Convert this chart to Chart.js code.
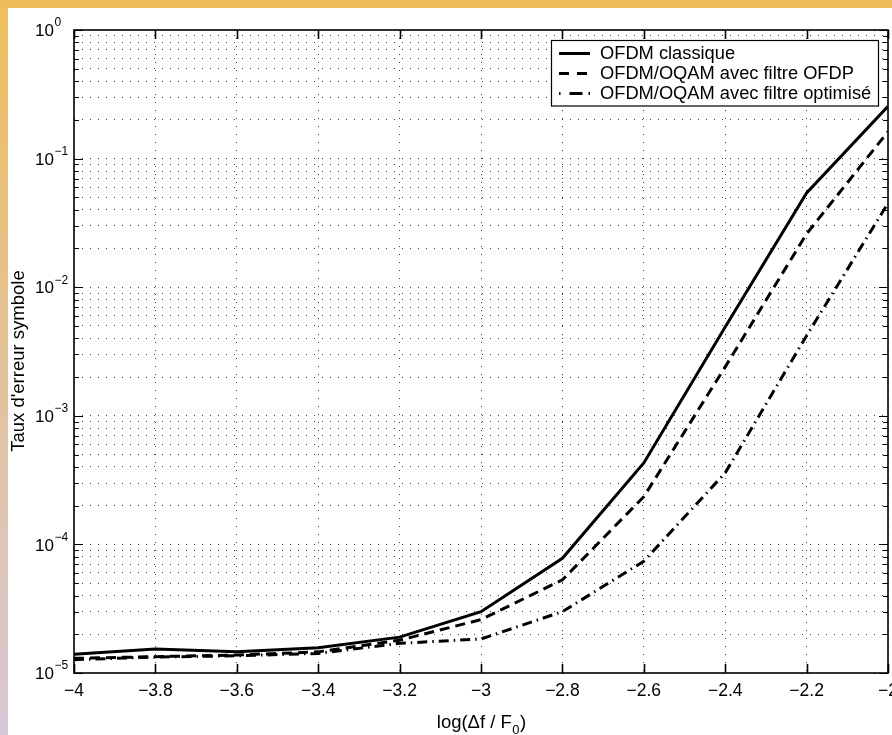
<!DOCTYPE html>
<html>
<head>
<meta charset="utf-8">
<script src="https://cdn.jsdelivr.net/npm/chart.js@4.4.1/dist/chart.umd.min.js"></script>
<style>
  html, body { margin: 0; padding: 0; background: #fff; overflow: hidden; }
</style>
</head>
<body>
<canvas id="myChart" width="892" height="735"></canvas>
<script>
// values
const xValues = [-4, -3.8, -3.6, -3.4, -3.2, -3, -2.8, -2.6, -2.4, -2.2, -2];
const ofdmClassique = [1.40e-5, 1.54e-5, 1.46e-5, 1.57e-5, 1.9e-5, 3.0e-5, 7.8e-5, 4.3e-4, 4.9e-3, 5.4e-2, 2.55e-1];
const oqamOfdp = [1.30e-5, 1.34e-5, 1.38e-5, 1.46e-5, 1.8e-5, 2.6e-5, 5.3e-5, 2.35e-4, 2.4e-3, 2.6e-2, 1.62e-1];
const oqamOptimise = [1.27e-5, 1.33e-5, 1.36e-5, 1.42e-5, 1.7e-5, 1.84e-5, 3.0e-5, 7.4e-5, 3.6e-4, 4.2e-3, 4.5e-2];
const seriesLabels = ['OFDM classique', 'OFDM/OQAM avec filtre OFDP', 'OFDM/OQAM avec filtre optimisé'];
const xTickLabels = ['\u22124', '\u22123.8', '\u22123.6', '\u22123.4', '\u22123.2', '\u22123', '\u22122.8', '\u22122.6', '\u22122.4', '\u22122.2', '\u22122'];
const yDecades = [-5, -4, -3, -2, -1, 0];
const xTitle = ['log(\u0394f / F', '0', ')'];
const yTitle = "Taux d'erreur symbole";

const FONT = '"Liberation Sans", Arial, Helvetica, sans-serif';

// log grid: 1..9 in every decade
const yTickValues = [];
yDecades.forEach(d => {
  if (d === 0) { yTickValues.push(1); return; }
  for (let m = 1; m <= 9; m++) yTickValues.push(Number((m * Math.pow(10, d)).toPrecision(3)));
});

function pts(arr) {
  return xValues.map((v, i) => ({ x: v, y: arr[i] }));
}

const framePlugin = {
  id: 'frame',
  beforeDraw(chart) {
    const { ctx, width, height } = chart;
    ctx.save();
    ctx.fillStyle = '#fff';
    ctx.fillRect(0, 0, width, height);
    const g = ctx.createLinearGradient(0, 0, 0, height);
    g.addColorStop(0, '#efbe5b');
    g.addColorStop(0.5, '#e3c29a');
    g.addColorStop(1, '#d8c8d6');
    ctx.fillStyle = g;
    ctx.fillRect(0, 0, 8, height);
    ctx.fillStyle = '#efbe5b';
    ctx.fillRect(0, 0, width, 8);
    ctx.restore();
  },
  afterDraw(chart) {
    const { ctx, chartArea: a, scales: { x, y } } = chart;
    ctx.save();

    // axes box + inward ticks
    ctx.strokeStyle = '#000';
    ctx.lineWidth = 1.6;
    ctx.strokeRect(a.left, a.top, a.right - a.left, a.bottom - a.top);
    ctx.beginPath();
    x.ticks.forEach(t => {
      const px = Math.round(x.getPixelForValue(t.value)) + 0.5;
      ctx.moveTo(px, a.bottom); ctx.lineTo(px, a.bottom - 9);
      ctx.moveTo(px, a.top); ctx.lineTo(px, a.top + 9);
    });
    ctx.stroke();
    ctx.beginPath();
    ctx.lineWidth = 1.2;
    y.ticks.forEach(t => {
      const py = Math.round(y.getPixelForValue(t.value)) + 0.5;
      const major = yDecades.some(d => Math.abs(Math.log10(t.value) - d) < 1e-6);
      const len = major ? 9 : 5;
      ctx.moveTo(a.left, py); ctx.lineTo(a.left + len, py);
      ctx.moveTo(a.right, py); ctx.lineTo(a.right - len, py);
    });
    ctx.stroke();

    // tick labels
    ctx.fillStyle = '#000';
    ctx.font = '17.5px ' + FONT;
    ctx.textAlign = 'center';
    ctx.textBaseline = 'top';
    x.ticks.forEach((t, i) => {
      ctx.fillText(xTickLabels[i], x.getPixelForValue(t.value), a.bottom + 9);
    });
    ctx.textAlign = 'left';
    ctx.textBaseline = 'middle';
    yDecades.forEach(d => {
      const py = y.getPixelForValue(Math.pow(10, d));
      ctx.font = '17px ' + FONT;
      ctx.fillText('10', 35, py + 1.5);
      const w = ctx.measureText('10').width;
      ctx.font = '12px ' + FONT;
      ctx.fillText(d === 0 ? '0' : '\u2212' + (-d), 35 + w + 0.5, py - 7);
    });

    // axis titles
    ctx.font = '18.5px ' + FONT;
    ctx.textBaseline = 'middle';
    const w0 = ctx.measureText(xTitle[0]).width;
    ctx.font = '13px ' + FONT;
    const w1 = ctx.measureText(xTitle[1]).width;
    ctx.font = '18.5px ' + FONT;
    const w2 = ctx.measureText(xTitle[2]).width;
    let tx = (a.left + a.right) / 2 - (w0 + w1 + w2) / 2;
    ctx.fillText(xTitle[0], tx, 723);
    ctx.font = '13px ' + FONT;
    ctx.fillText(xTitle[1], tx + w0 + 0.5, 730);
    ctx.font = '18.5px ' + FONT;
    ctx.fillText(xTitle[2], tx + w0 + w1 + 1, 723);

    ctx.save();
    ctx.translate(19, 361);
    ctx.rotate(-Math.PI / 2);
    ctx.textAlign = 'center';
    ctx.fillText(yTitle, 0, 0);
    ctx.restore();

    // legend
    const lx = 551.5, ly = 40.5, lw = 327, lh = 65.5;
    ctx.fillStyle = '#fff';
    ctx.fillRect(lx, ly, lw, lh);
    ctx.lineWidth = 1.2;
    ctx.strokeStyle = '#000';
    ctx.strokeRect(lx, ly, lw, lh);
    chart.data.datasets.forEach((ds, i) => {
      const ry = 53.5 + i * 20;
      ctx.beginPath();
      ctx.lineWidth = ds.borderWidth;
      ctx.setLineDash(ds.legendDash || []);
      ctx.moveTo(559, ry);
      ctx.lineTo(590, ry);
      ctx.stroke();
      ctx.setLineDash([]);
      ctx.fillStyle = '#000';
      ctx.font = '18.3px ' + FONT;
      ctx.textAlign = 'left';
      ctx.textBaseline = 'middle';
      ctx.fillText(ds.label, 600, ry + 0.5);
    });

    ctx.restore();
  }
};

const ctx = document.getElementById('myChart').getContext('2d');
const myChart = new Chart(ctx, {
  type: 'line',
  data: {
    datasets: [
      {
        label: seriesLabels[0],
        data: pts(ofdmClassique),
        borderColor: '#000',
        borderWidth: 3,
        pointRadius: 0,
        fill: false,
        legendDash: []
      },
      {
        label: seriesLabels[1],
        data: pts(oqamOfdp),
        borderColor: '#000',
        borderWidth: 3,
        borderDash: [10, 6],
        pointRadius: 0,
        fill: false,
        legendDash: [10, 8]
      },
      {
        label: seriesLabels[2],
        data: pts(oqamOptimise),
        borderColor: '#000',
        borderWidth: 3,
        borderDash: [10, 5, 1.5, 5],
        pointRadius: 0,
        fill: false,
        legendDash: [1.5, 9, 13, 6, 1.5, 20]
      }
    ]
  },
  options: {
    responsive: false,
    animation: false,
    devicePixelRatio: 1,
    layout: { padding: { left: 74, right: 4, top: 30, bottom: 62 } },
    plugins: { legend: { display: false }, tooltip: { enabled: false } },
    scales: {
      x: {
        type: 'linear',
        min: -4,
        max: -2,
        ticks: { display: false, stepSize: 0.2 },
        grid: { color: 'rgba(0,0,0,0.75)', lineWidth: 1, drawTicks: false },
        border: { display: false, dash: [1, 7] }
      },
      y: {
        type: 'logarithmic',
        min: 1e-5,
        max: 1,
        afterBuildTicks: scale => {
          scale.ticks = yTickValues.map(v => ({ value: v }));
        },
        ticks: { display: false },
        grid: { color: 'rgba(0,0,0,0.75)', lineWidth: 1, drawTicks: false },
        border: { display: false, dash: [1, 7] }
      }
    }
  },
  plugins: [framePlugin]
});
</script>
</body>
</html>
